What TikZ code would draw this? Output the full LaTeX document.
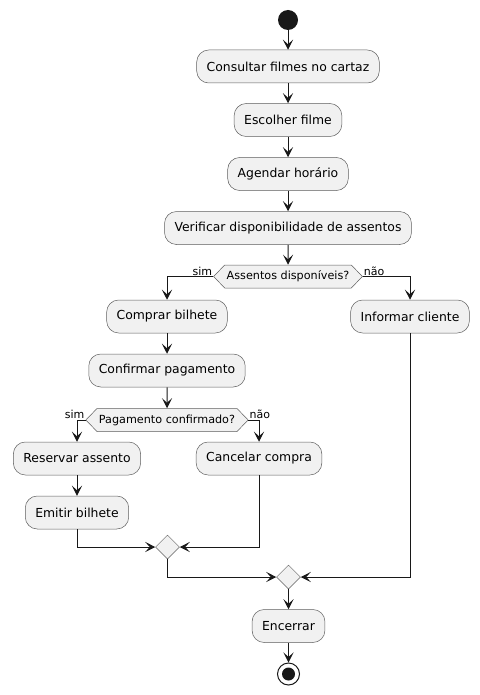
\documentclass[tikz,border=0pt]{standalone}
\usepackage{fontspec}
\setmainfont{DejaVu Sans}
\usepackage{xcolor}
\usetikzlibrary{arrows.meta,shapes.geometric,shapes.symbols}
\definecolor{actfill}{HTML}{F1F1F1}
\definecolor{actline}{HTML}{181818}
\begin{document}
\begin{tikzpicture}[x=1pt, y=-1pt,
    act/.style={draw=actline!70, fill=actfill, line width=0.5pt, rounded corners=12pt,
                minimum height=33pt, inner xsep=10pt, font=\fontsize{12.4}{14}\selectfont},
    cond/.style={signal, signal to=west and east, signal pointer angle=92,
                 draw=actline!70, fill=actfill, line width=0.5pt, minimum height=23pt,
                 inner xsep=2pt, inner ysep=0pt, font=\fontsize{11.2}{13}\selectfont},
    merge/.style={diamond, draw=actline!70, fill=actfill, line width=0.5pt,
                  minimum size=24pt, inner sep=0pt},
    flow/.style={actline, line width=1pt, -{Stealth[length=10pt, width=10pt, inset=4.5pt]}},
    lbl/.style={font=\fontsize{11}{13}\selectfont, inner sep=1pt},
]
\useasboundingbox (0,0) rectangle (479,695);

% Start and main sequence
\node[circle, fill=actline, minimum size=20pt, inner sep=0pt] (start) at (288,20) {};
\node[act] (consult) at (288,66.5) {Consultar filmes no cartaz};
\node[act] (escolher) at (288,120) {Escolher filme};
\node[act] (agendar) at (288,174) {Agendar horário};
\node[act] (verificar) at (288,228) {Verificar disponibilidade de assentos};

% First decision
\node[cond] (assentos) at (288,276.5) {Assentos disponíveis?};
\node[act] (comprar) at (167,316.5) {Comprar bilhete};
\node[act] (informar) at (410,316.5) {Informar cliente};
\node[act] (confirmar) at (167,370.5) {Confirmar pagamento};

% Second decision
\node[cond] (pagamento) at (167,420) {Pagamento confirmado?};
\node[act] (reservar) at (77,458.5) {Reservar assento};
\node[act] (cancelar) at (259,458.5) {Cancelar compra};
\node[act] (emitir) at (77,512.5) {Emitir bilhete};

% Merges and end
\node[merge] (merge1) at (167.5,547) {};
\node[merge] (merge2) at (288.5,577) {};
\node[act] (encerrar) at (288.5,626) {Encerrar};
\node[circle, draw=actline, line width=1pt, minimum size=22pt, inner sep=0pt] (stop) at (288.5,674) {};
\fill[actline] (stop.center) circle (6.5);

% Flow
\draw[flow] (start) -- (consult);
\draw[flow] (consult) -- (escolher);
\draw[flow] (escolher) -- (agendar);
\draw[flow] (agendar) -- (verificar);
\draw[flow] (verificar) -- (assentos);
\draw[flow] (assentos.west) -| (comprar.north);
\draw[flow] (assentos.east) -| (informar.north);
\node[lbl, anchor=south east] at (assentos.west) {sim};
\node[lbl, anchor=south west] at (assentos.east) {não};
\draw[flow] (comprar) -- (confirmar);
\draw[flow] (confirmar) -- (pagamento);
\draw[flow] (pagamento.west) -| (reservar.north);
\draw[flow] (pagamento.east) -| (cancelar.north);
\node[lbl, anchor=south east] at (pagamento.west) {sim};
\node[lbl, anchor=south west] at (pagamento.east) {não};
\draw[flow] (reservar) -- (emitir);
\draw[flow] (emitir.south) |- (merge1.west);
\draw[flow] (cancelar.south) |- (merge1.east);
\draw[flow] (merge1.south) |- (merge2.west);
\draw[flow] (informar.south) |- (merge2.east);
\draw[flow] (merge2) -- (encerrar);
\draw[flow] (encerrar) -- (stop);
\end{tikzpicture}
\end{document}
